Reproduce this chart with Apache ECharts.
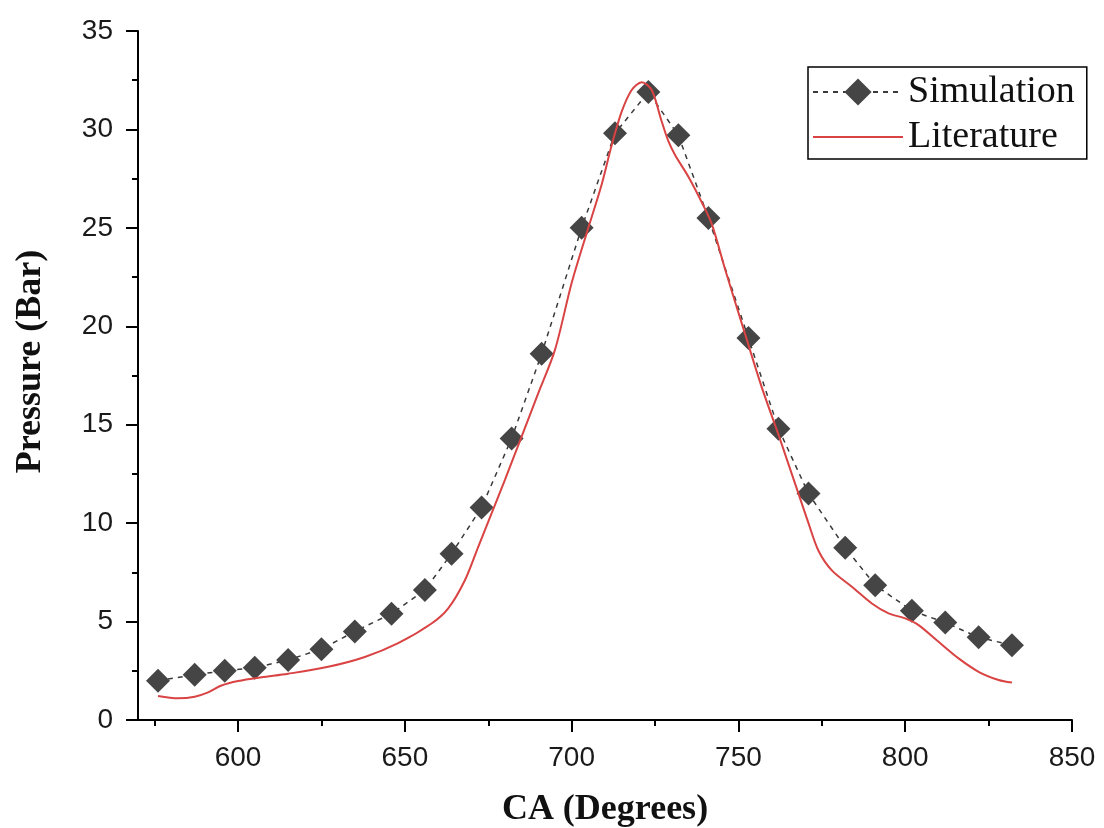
<!DOCTYPE html>
<html>
<head>
<meta charset="utf-8">
<title>Pressure vs CA</title>
<script src="https://cdn.jsdelivr.net/npm/echarts@6/dist/echarts.min.js"></script>
<style>
  html, body { margin: 0; padding: 0; background: #fff; }
  #chart { width: 1104px; height: 828px; }
</style>
</head>
<body>
<div id="chart"></div>
<script>
// Simulation points (crank angle, pressure)
const simCA = [576, 587, 596, 605, 615, 625, 635, 646, 656, 664, 673, 682, 691, 703, 713, 723, 732, 741, 753, 762, 771, 782, 791, 802, 812, 822, 832];
const simP  = [2.0, 2.3, 2.5, 2.65, 3.05, 3.6, 4.5, 5.4, 6.6, 8.45, 10.8, 14.3, 18.6, 25.0, 29.8, 31.9, 29.7, 25.5, 19.4, 14.8, 11.5, 8.75, 6.85, 5.55, 4.95, 4.2, 3.8];

// Literature curve (crank angle, pressure)
const litCA = [576, 582, 587, 591, 595, 600, 607, 615, 627, 638, 648, 658, 663, 668, 672, 676, 680, 685, 690, 695, 700, 705, 709, 712, 715, 718, 721, 724, 727, 729, 731, 735, 739, 742, 746, 752, 757, 762, 765, 768, 771, 774, 778, 784, 790, 795, 800, 804, 810, 816, 822, 828, 832];
const litP  = [1.22, 1.1, 1.18, 1.4, 1.75, 1.98, 2.17, 2.35, 2.7, 3.2, 3.9, 4.9, 5.67, 7.1, 8.8, 10.5, 12.2, 14.4, 16.6, 18.8, 22.2, 25.0, 27.2, 29.2, 30.9, 32.0, 32.4, 32.0, 30.4, 29.4, 28.7, 27.6, 26.3, 25.2, 22.9, 19.6, 16.9, 14.5, 13.0, 11.5, 10.0, 8.6, 7.6, 6.77, 5.92, 5.42, 5.16, 4.82, 3.97, 3.13, 2.45, 2.03, 1.9];

// Axis tick positions
const xMajor = [600, 650, 700, 750, 800, 850];
const xMinor = [575, 625, 675, 725, 775, 825];

const simData = simCA.map((x, i) => [x, simP[i]]);
const litData = litCA.map((x, i) => [x, litP[i]]);

const labelFont = { fontFamily: 'Liberation Sans, Arial, sans-serif', fontSize: 28, color: '#1a1a1a' };
const titleFont = { fontFamily: 'Liberation Serif, Times New Roman, serif', fontSize: 36, fontWeight: 'bold', color: '#111' };
const axisLine = { show: true, lineStyle: { color: '#000', width: 2 } };

const chart = echarts.init(document.getElementById('chart'), null, { renderer: 'canvas' });
chart.setOption({
  animation: false,
  backgroundColor: '#fff',
  grid: { left: 138, right: 32, top: 31, bottom: 108, containLabel: false, outerBoundsMode: 'none' },
  legend: {
    orient: 'vertical',
    left: 808, top: 67,
    padding: [6, 12, 3, 4],
    itemGap: 7,
    itemWidth: 90,
    itemHeight: 34,
    borderColor: '#000',
    borderWidth: 1.5,
    textStyle: { fontFamily: 'Liberation Serif, Times New Roman, serif', fontSize: 38, color: '#111' },
    data: [
      { name: 'Simulation' },
      { name: 'Literature', itemStyle: { opacity: 0 } }
    ]
  },
  xAxis: [
    {
      type: 'value', min: 570, max: 850,
      name: 'CA (Degrees)', nameLocation: 'middle', nameGap: 72,
      nameTextStyle: titleFont,
      axisLine: axisLine,
      axisTick: { show: true, inside: false, length: 12, customValues: xMajor, lineStyle: { color: '#000', width: 2 } },
      axisLabel: Object.assign({ margin: 24, customValues: xMajor }, labelFont),
      splitLine: { show: false }
    },
    {
      type: 'value', min: 570, max: 850, position: 'bottom',
      axisLine: { show: false },
      axisTick: { show: true, inside: false, length: 6, customValues: xMinor, lineStyle: { color: '#000', width: 2 } },
      axisLabel: { show: false },
      splitLine: { show: false }
    }
  ],
  yAxis: {
    type: 'value', min: 0, max: 35, interval: 5,
    name: 'Pressure (Bar)', nameLocation: 'middle', nameGap: 89, nameRotate: 90,
    nameTextStyle: Object.assign({ padding: [0, 0, 0, 28] }, titleFont),
    axisLine: axisLine,
    axisTick: { show: true, inside: false, length: 12, lineStyle: { color: '#000', width: 2 } },
    minorTick: { show: true, splitNumber: 2, length: 6, lineStyle: { color: '#000', width: 2 } },
    axisLabel: Object.assign({ margin: 25 }, labelFont),
    splitLine: { show: false },
    minorSplitLine: { show: false }
  },
  series: [
    {
      name: 'Simulation', type: 'line', xAxisIndex: 0,
      data: simData,
      symbol: 'diamond', symbolSize: 24,
      itemStyle: { color: '#454545' },
      lineStyle: { color: '#3a3a3a', width: 1.5, type: [5, 5] },
      z: 3
    },
    {
      name: 'Literature', type: 'line', xAxisIndex: 0,
      data: litData,
      smooth: 0.3,
      showSymbol: false, symbol: 'none',
      itemStyle: { color: '#d94343' },
      lineStyle: { color: '#d94343', width: 2 },
      z: 4
    }
  ]
});
</script>
</body>
</html>
